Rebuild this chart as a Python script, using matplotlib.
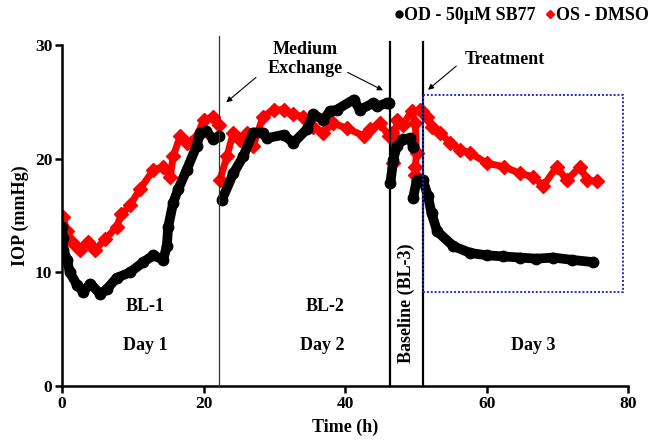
import numpy as np
import matplotlib.pyplot as plt
from matplotlib.lines import Line2D
from matplotlib.patches import Rectangle

plt.rcParams['font.family'] = ['Liberation Serif', 'DejaVu Serif']
plt.rcParams['font.weight'] = 'bold'

# ---- OD - 50uM SB77 (black), one list per recording segment
od_t1 = [0.0, 0.1, 0.2, 0.7, 1.1, 2.1, 3.0, 4.0, 5.4, 6.3, 7.7, 9.6, 11.5, 12.9, 14.3, 14.8,
         15.0, 15.7, 16.4, 17.6, 19.0, 19.5, 20.4, 21.4, 22.2]
od_v1 = [14.0, 13.0, 12.0, 11.1, 10.0, 8.9, 8.3, 9.0, 8.1, 8.5, 9.5, 10.0, 10.9, 11.5, 11.1, 12.3,
         14.0, 16.1, 17.3, 19.0, 21.1, 22.3, 22.4, 21.7, 22.0]
od_t2 = [22.6, 24.2, 25.6, 27.0, 28.4, 28.9, 31.3, 32.7, 34.6, 35.5, 36.9, 37.9, 38.8, 41.2,
         42.1, 44.0, 44.5, 45.9, 46.2]
od_v2 = [16.4, 18.7, 20.2, 22.3, 22.3, 21.8, 22.1, 21.4, 22.6, 23.9, 23.4, 24.2, 24.3, 25.2,
         24.3, 24.9, 24.6, 24.9, 24.9]
od_t3 = [46.4, 46.8, 47.3, 48.2, 49.2, 49.6]
od_v3 = [17.9, 19.9, 21.1, 21.7, 21.8, 21.0]
od_t4 = [49.6, 50.1]
od_v4 = [16.5, 18.1]
od_t5 = [50.6, 51.0, 51.7, 52.2, 53.0, 55.3, 57.7, 60.0, 62.3, 64.7, 67.0, 69.4, 72.0, 75.0]
od_v5 = [18.1, 18.1, 16.7, 15.2, 13.6, 12.3, 11.7, 11.5, 11.4, 11.3, 11.2, 11.3, 11.1, 10.9]

# ---- OS - DMSO (red)
os_t1 = [0.1, 0.7, 1.6, 2.5, 3.7, 4.7, 6.1, 7.7, 8.4, 9.6, 11.0, 12.9, 14.3, 15.3, 15.7, 16.7,
         17.6, 19.0, 20.0, 21.4, 22.2]
os_v1 = [14.9, 13.6, 12.6, 12.0, 12.7, 12.0, 12.9, 14.0, 15.1, 15.9, 17.3, 19.0, 19.3, 18.4,
         20.2, 22.0, 21.4, 21.9, 23.4, 23.7, 23.0]
os_t2 = [22.3, 23.3, 24.2, 25.1, 26.1, 27.0, 28.4, 29.9, 31.3, 32.7, 34.1, 35.5, 36.9, 38.3,
         40.2, 42.6, 43.5, 44.9, 46.2]
os_v2 = [18.1, 20.2, 22.3, 21.6, 22.3, 21.1, 23.7, 24.3, 24.3, 23.9, 23.7, 22.8, 22.3, 23.1,
         22.7, 22.0, 22.6, 23.1, 22.0]
os_t3 = [46.6, 46.8, 47.3, 48.2, 49.4, 49.9, 50.1, 49.9, 49.9]
os_v3 = [22.3, 19.6, 23.4, 23.0, 24.2, 23.1, 20.5, 19.3, 18.6]
os_t4 = [50.6, 50.8, 51.5, 52.2, 53.4, 54.8, 56.2, 57.7, 60.0, 62.4, 64.7, 66.6, 68.0, 69.9,
         71.3, 73.2, 74.2, 75.6]
os_v4 = [24.3, 24.2, 23.7, 22.8, 22.3, 21.4, 20.8, 20.5, 19.6, 19.3, 18.7, 18.4, 17.6, 19.3,
         18.1, 19.3, 18.1, 18.0]

od_segments = [(od_t1, od_v1), (od_t2, od_v2), (od_t3, od_v3), (od_t4, od_v4), (od_t5, od_v5)]
os_segments = [(os_t1, os_v1), (os_t2, os_v2), (os_t3, os_v3), (os_t4, os_v4)]

x_ticks = [0, 20, 40, 60, 80]
y_ticks = [0, 10, 20, 30]

fig = plt.figure(figsize=(6.55, 4.41), dpi=100)
ax = fig.add_axes([0.0947, 0.1247, 0.8645, 0.7733])

red = '#ff0000'
for t, v in os_segments:
    ax.plot(t, v, '-', color=red, lw=5, solid_capstyle='round', zorder=2)
    ax.plot(t, v, 'D', color=red, ms=7, zorder=2)
for t, v in od_segments:
    ax.plot(t, v, '-', color='black', lw=7, solid_capstyle='round', zorder=3)
    ax.plot(t, v, 'o', color='black', ms=7.5, zorder=3)

# event lines
ax.plot([22.2, 22.2], [0, 30.8], color='#333333', lw=0.9, clip_on=False, zorder=4)
ax.plot([46.3, 46.3], [0, 30.3], color='black', lw=1.6, clip_on=False, zorder=4)
ax.plot([51.0, 51.0], [0, 30.3], color='black', lw=1.6, clip_on=False, zorder=4)

# treatment box
ax.add_patch(Rectangle((51.0, 8.3), 28.3, 17.3, fill=False, ec='#1f2bd6', lw=1.4,
                       ls=(0, (1, 1)), zorder=5))

fs = 13
# annotations
ax.text(34.3, 28.8, 'Medium\nExchange', ha='center', va='center', fontsize=fs,
        linespacing=1.15, zorder=6)
ax.annotate('', xy=(22.9, 24.8), xytext=(27.7, 27.3),
            arrowprops=dict(arrowstyle='-|>', color='black', lw=0.8, mutation_scale=8))
ax.annotate('', xy=(45.7, 25.9), xytext=(40.0, 27.7),
            arrowprops=dict(arrowstyle='-|>', color='black', lw=0.8, mutation_scale=8))
ax.text(62.6, 28.7, 'Treatment', ha='center', va='center', fontsize=fs)
ax.annotate('', xy=(51.4, 25.9), xytext=(56.0, 28.3),
            arrowprops=dict(arrowstyle='-|>', color='black', lw=0.8, mutation_scale=8))

ax.text(11.8, 7.0, 'BL-1', ha='center', va='center', fontsize=fs)
ax.text(11.7, 3.6, 'Day 1', ha='center', va='center', fontsize=fs)
ax.text(37.2, 7.0, 'BL-2', ha='center', va='center', fontsize=fs)
ax.text(36.7, 3.6, 'Day 2', ha='center', va='center', fontsize=fs)
ax.text(66.6, 3.6, 'Day 3', ha='center', va='center', fontsize=fs)
ax.text(48.6, 7.3, 'Baseline (BL-3)', ha='center', va='center', rotation=90, fontsize=fs)

ax.set_xlim(0, 80)
ax.set_ylim(0, 30)
ax.set_xticks(x_ticks)
ax.set_yticks(y_ticks)
ax.tick_params(direction='out', length=5, width=1.8, labelsize=12.5, pad=2)
for lab in ax.get_xticklabels() + ax.get_yticklabels():
    lab.set_fontweight('bold')
ax.spines['top'].set_visible(False)
ax.spines['right'].set_visible(False)
ax.spines['left'].set_linewidth(1.8)
ax.spines['bottom'].set_linewidth(1.8)
ax.set_xlabel('Time (h)', fontsize=fs, fontweight='bold', labelpad=5)
ax.set_ylabel('IOP (mmHg)', fontsize=fs, fontweight='bold', labelpad=4)

handles = [Line2D([], [], ls='none', marker='o', color='black', ms=5),
           Line2D([], [], ls='none', marker='D', color=red, ms=4)]
fig.legend(handles, ['OD - 50\u00b5M SB77', 'OS - DMSO'], ncol=2, loc='upper right',
           bbox_to_anchor=(1.015, 1.02), frameon=False, handlelength=0.4,
           handletextpad=0.1, columnspacing=0.6, prop={'weight': 'bold', 'size': 13})

fig.savefig('out.png', dpi=100)
